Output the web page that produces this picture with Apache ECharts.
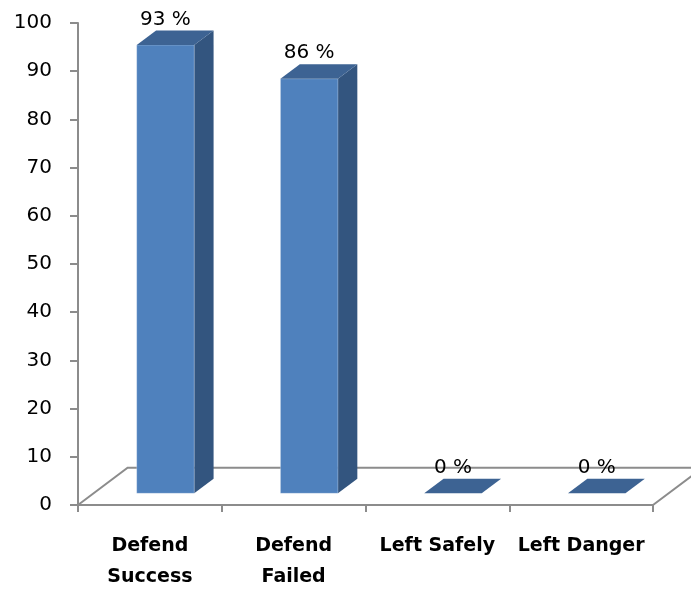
<!DOCTYPE html>
<html>
<head>
<meta charset="utf-8">
<script src="https://cdn.jsdelivr.net/npm/echarts@6/dist/echarts.min.js"></script>
<style>
  html, body { margin: 0; padding: 0; background: #fff; }
  #chart { width: 691px; height: 595px; }
</style>
</head>
<body>
<div id="chart"></div>
<script>
// Outcome shares (percent)
const categories = ['Defend\nSuccess', 'Defend\nFailed', 'Left Safely', 'Left Danger'];
const values = [93, 86, 0, 0];
const yTicks = [0, 10, 20, 30, 40, 50, 60, 70, 80, 90, 100];

// 3D projection of the floor, expressed relative to one category band
const DEPTH_X = 0.345;   // horizontal shift of full floor depth
const DEPTH_Y = -0.2595; // vertical shift of full floor depth
const BAR_FRONT = 0.314; // bar front plane (fraction of depth)
const BAR_BACK = 0.705;  // bar back plane
const BAR_WIDTH = 0.4;   // bar width (fraction of band)

const FRONT = '#4f81bd';
const TOP = '#3d6393';
const SIDE = '#33557f';
const AXIS = '#8c8c8c';

const chart = echarts.init(document.getElementById('chart'));

function renderFloor(params, api) {
  const band = api.size([1, 0])[0];
  const left = api.coord([0, 0]);
  const right = api.coord([categories.length - 1, 0]);
  const x0 = left[0] - band / 2, x1 = right[0] + band / 2, y0 = left[1];
  const dx = band * DEPTH_X, dy = band * DEPTH_Y;
  return {
    type: 'polyline',
    shape: { points: [[x0, y0], [x0 + dx, y0 + dy], [x1 + dx, y0 + dy], [x1, y0]] },
    style: { stroke: AXIS, lineWidth: 2, fill: null }
  };
}

function renderBar(params, api) {
  const idx = api.value(0);
  const val = api.value(1);
  const band = api.size([1, 0])[0];
  const base = api.coord([idx, 0]);
  const top = api.coord([idx, val]);
  const dx = band * DEPTH_X, dy = band * DEPTH_Y;
  const w = band * BAR_WIDTH;
  const xL = base[0] - w / 2 + BAR_FRONT * dx;
  const xR = xL + w;
  const yB = base[1] + BAR_FRONT * dy;
  const yT = top[1] + BAR_FRONT * dy;
  const bx = (BAR_BACK - BAR_FRONT) * dx;
  const by = (BAR_BACK - BAR_FRONT) * dy;
  const children = [];
  if (yB - yT > 0.5) {
    children.push({
      type: 'polygon',
      shape: { points: [[xR, yB], [xR, yT], [xR + bx, yT + by], [xR + bx, yB + by]] },
      style: { fill: SIDE }
    });
    children.push({
      type: 'rect',
      shape: { x: xL, y: yT, width: w, height: yB - yT },
      style: { fill: FRONT, stroke: 'rgba(255,255,255,0.25)', lineWidth: 1 }
    });
  }
  children.push({
    type: 'polygon',
    shape: { points: [[xL, yT], [xR, yT], [xR + bx, yT + by], [xL + bx, yT + by]] },
    style: { fill: TOP }
  });
  children.push({
    type: 'text',
    style: {
      text: val + ' %',
      x: (xL + xR) / 2,
      y: yT + by - 11,
      align: 'center',
      verticalAlign: 'middle',
      fill: '#000',
      font: '20px "DejaVu Sans"'
    }
  });
  return { type: 'group', children: children };
}

chart.setOption({
  animation: false,
  backgroundColor: '#fff',
  grid: { left: 78, right: 38, top: 23, bottom: 90 },
  xAxis: {
    type: 'category',
    data: categories,
    boundaryGap: true,
    axisLine: { lineStyle: { color: AXIS, width: 2 } },
    axisTick: { show: true, length: 7, interval: 0, lineStyle: { color: AXIS, width: 2 } },
    axisLabel: {
      interval: 0,
      margin: 26,
      color: '#000',
      fontFamily: 'DejaVu Sans',
      fontWeight: 'bold',
      fontSize: 19,
      lineHeight: 31
    }
  },
  yAxis: {
    type: 'value',
    min: yTicks[0],
    max: yTicks[yTicks.length - 1],
    interval: yTicks[1] - yTicks[0],
    axisLine: { show: true, lineStyle: { color: AXIS, width: 2 } },
    axisTick: { show: true, length: 8, lineStyle: { color: AXIS, width: 2 } },
    splitLine: { show: false },
    axisLabel: {
      margin: 26,
      color: '#000',
      fontFamily: 'DejaVu Sans',
      fontSize: 20
    }
  },
  series: [
    {
      type: 'custom',
      renderItem: renderFloor,
      data: [[0, 0]],
      encode: { x: 0, y: 1 },
      z: 1,
      silent: true
    },
    {
      type: 'custom',
      renderItem: renderBar,
      data: categories.map((c, i) => [i, values[i]]),
      encode: { x: 0, y: 1 },
      z: 2
    }
  ]
});
</script>
</body>
</html>
